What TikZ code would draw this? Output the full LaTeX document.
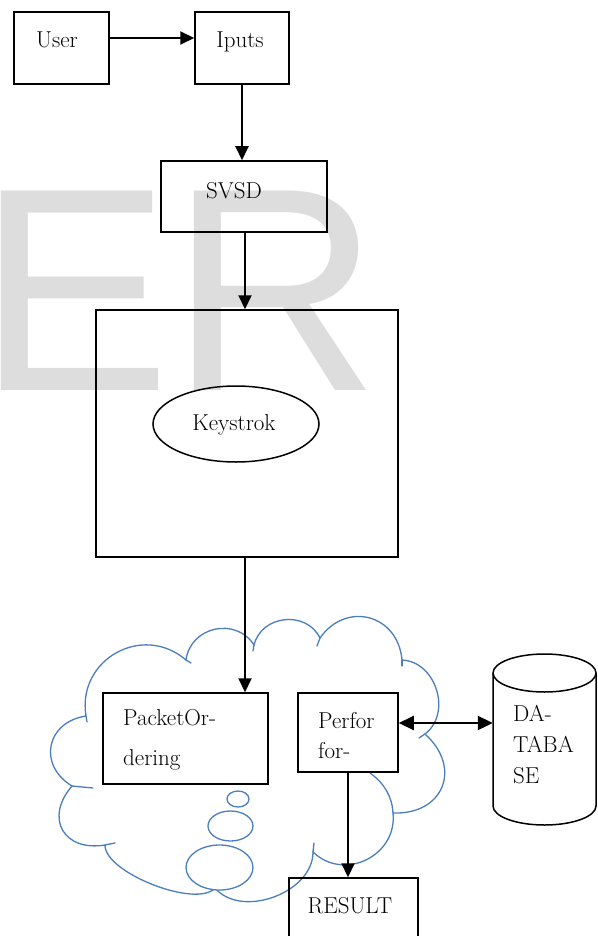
\documentclass[tikz,border=0pt]{standalone}
\usepackage{fontspec}
\newfontfamily\wmfont{Liberation Sans}
\usetikzlibrary{arrows.meta,shapes.geometric}
\definecolor{cloudblue}{RGB}{74,126,190}
\definecolor{wm}{RGB}{221,221,221}
\begin{document}
\begin{tikzpicture}[x=1pt,y=-1pt,
  box/.style={draw, line width=1.5pt, inner sep=0pt},
  txt/.style={inner sep=0pt, font=\fontsize{23}{27}\selectfont},
  arr/.style={line width=2pt, -{Triangle[length=14pt,width=13pt]}},
  darr/.style={line width=2pt, {Triangle[length=15pt,width=14pt]}-{Triangle[length=15pt,width=14pt]}},
  cloudline/.style={draw=cloudblue, line width=1.3pt},
  cb/.style={bend left=70, looseness=#1}]
\useasboundingbox (0,0) rectangle (597,936);
\clip (0,0) rectangle (597,936);
% watermark
\node[anchor=base west, inner sep=0pt, text=wm, font=\wmfont\fontsize{290}{300}\selectfont] (wmark) at (-23,390) {ER};
% cloud (canvas coordinates, y up)
\draw[cloudline, fill=white] (86pt,-716pt) to[cb=1.28] (186pt,-660pt) to[cb=1.24] (254pt,-645pt)
  to[cb=1.2] (320pt,-638pt) to[cb=1.38] (402pt,-660pt) to[cb=1.13] (425pt,-734pt)
  to[cb=1.52] (393pt,-813pt) to[cb=1.24] (313pt,-852pt) to[cb=1.0] (215pt,-888pt)
  to[cb=0.6] (105pt,-845pt) to[cb=1.6] (72pt,-786pt) to[cb=1.45] (86pt,-716pt) -- cycle;
% small inner ends of the cloud arcs
\draw[cloudline, line cap=round] (86,716) -- (87,722);
\draw[cloudline, line cap=round] (186,660) -- (191,663);
\draw[cloudline, line cap=round] (254,645) -- (253,651);
\draw[cloudline, line cap=round] (320,638) -- (317,646);
\draw[cloudline, line cap=round] (402,660) -- (402,666);
\draw[cloudline, line cap=round] (425,734) -- (419,738);
\draw[cloudline, line cap=round] (393,813) .. controls (392,796) and (384,783) .. (370,773);
\draw[cloudline, line cap=round] (313,852) -- (314,843);
\draw[cloudline, line cap=round] (105,845) -- (115,843);
\draw[cloudline, line cap=round] (72,786) -- (93,788);
\draw[cloudline, fill=white] (238,799) ellipse [x radius=11pt, y radius=8pt];
\draw[cloudline, fill=white] (230.5,826) ellipse [x radius=22.5pt, y radius=15pt];
\draw[cloudline, fill=white] (219.5,867.5) ellipse [x radius=33.5pt, y radius=22.5pt];
% boxes
\node[box, minimum width=95pt, minimum height=72pt] (user) at (61.5,48) {};
\node[box, minimum width=94pt, minimum height=72pt] (iputs) at (242,48) {};
\node[box, minimum width=166pt, minimum height=71pt] (svsd) at (244,196.5) {};
\node[box, minimum width=302pt, minimum height=247pt] (big) at (247,433.5) {};
\node[box, ellipse, minimum width=166pt, minimum height=76pt] (key) at (236,424) {};
\node[box, minimum width=165pt, minimum height=91pt] (pack) at (185.5,738.5) {};
\node[box, minimum width=100pt, minimum height=79pt] (perf) at (348,732.5) {};
\node[box, minimum width=129pt, minimum height=72pt] (result) at (353.5,914) {};
\node[inner sep=0pt, minimum width=103pt, minimum height=172pt] (db) at (544.5,739.5) {};
\draw[line width=1.5pt, fill=white] (493,673) -- (493,806)
  arc[start angle=180, end angle=360, x radius=51.5pt, y radius=19pt] -- (596,673)
  arc[start angle=0, end angle=180, x radius=51.5pt, y radius=19pt] -- cycle;
\draw[line width=1.5pt] (493,673) arc[start angle=180, end angle=360, x radius=51.5pt, y radius=19pt];
% connectors
\draw[arr] ([yshift=10pt]user.east) -- ([yshift=10pt]iputs.west);
\draw[arr] (iputs.south) -- (iputs.south |- svsd.north);
\draw[arr] ([xshift=1pt]svsd.south) -- ([xshift=1pt]svsd.south |- big.north);
\draw[arr] ([xshift=-2pt]big.south) -- ([xshift=-2pt]big.south |- pack.north);
\draw[arr] (perf.south) -- (perf.south |- result.north);
\draw[darr] ([yshift=9.5pt]perf.east) -- ([yshift=9.5pt]perf.east -| db.west);
% texts
\node[txt, anchor=base] (tuser) at (57,48) {User};
\node[txt, anchor=base] (tiputs) at (240,48) {Iputs};
\node[txt, anchor=base] (tsvsd) at (234,198) {SVSD};
\node[txt, anchor=base] (tkey) at (234,430) {Keystrok};
\node[txt, anchor=base west] (tpack1) at (123,725) {PacketOr-};
\node[txt, anchor=base west] (tpack2) at (123,765) {dering};
\node[txt, anchor=base west] (tperf1) at (318,728) {Perfor};
\node[txt, anchor=base west] (tperf2) at (318,758) {for-};
\node[txt, anchor=base west] (tdb1) at (513,721) {DA-};
\node[txt, anchor=base west] (tdb2) at (513,752) {TABA};
\node[txt, anchor=base west] (tdb3) at (513,783) {SE};
\node[txt, anchor=base] (tresult) at (350,913) {RESULT};
\end{tikzpicture}
\end{document}
